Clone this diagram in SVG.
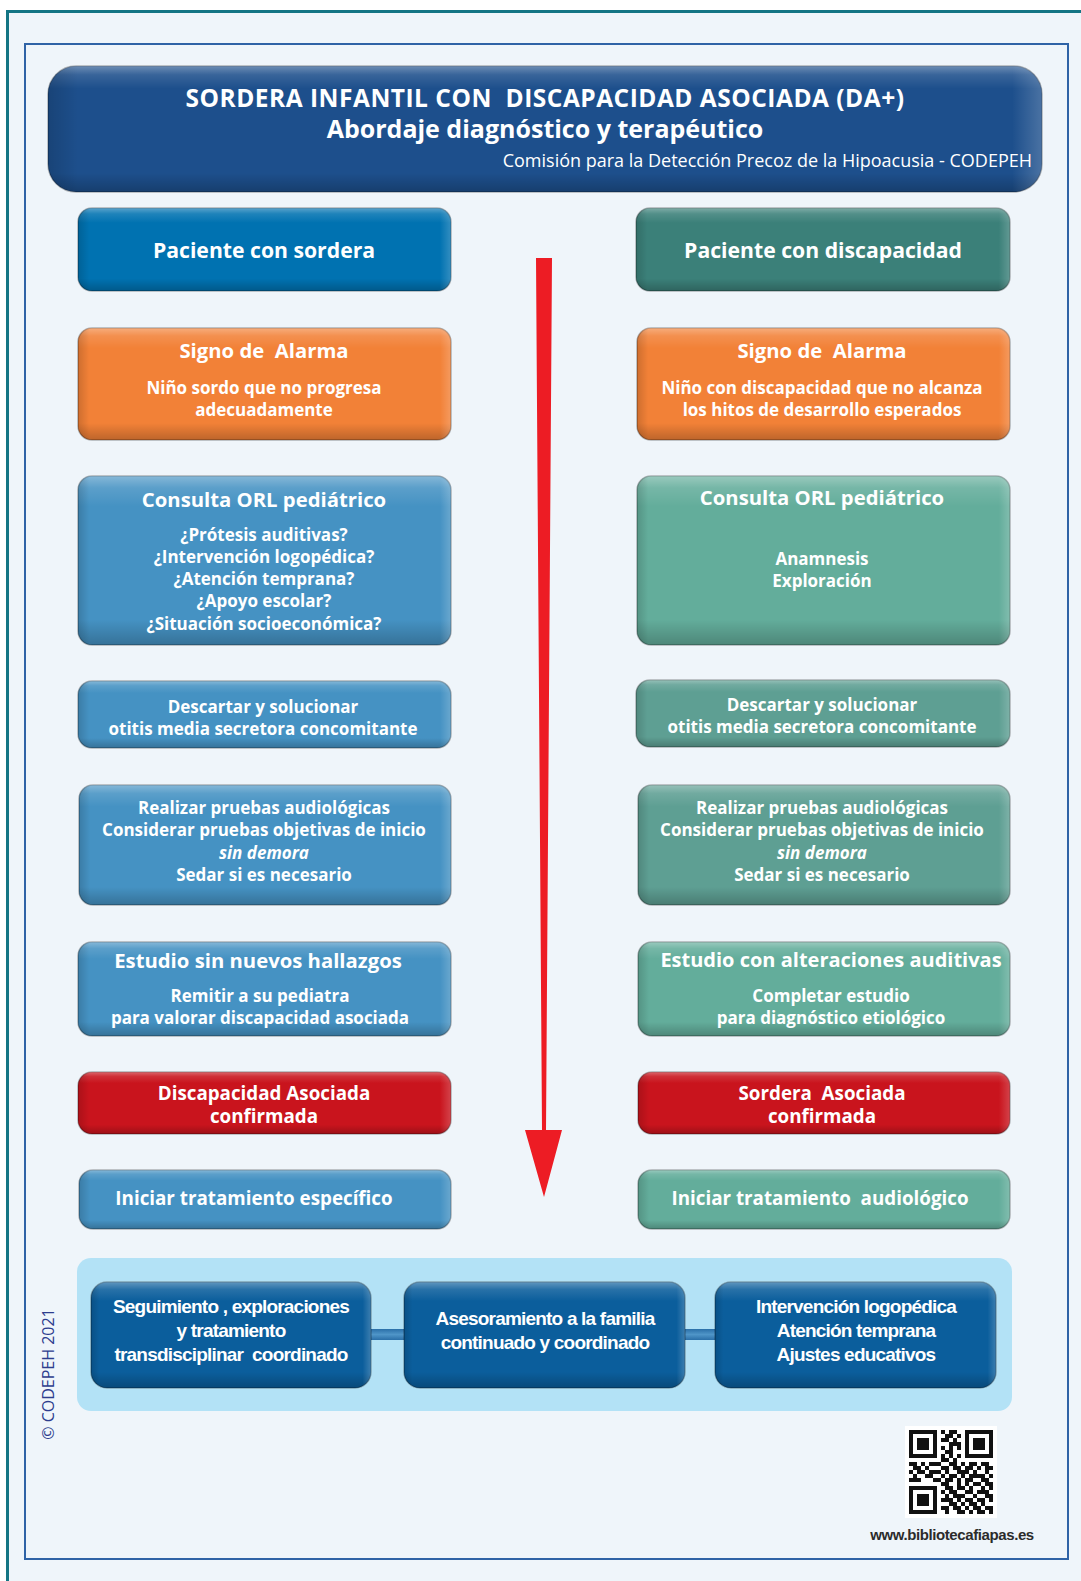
<svg xmlns="http://www.w3.org/2000/svg" width="1081" height="1581" viewBox="0 0 1081 1581">
<defs>
<linearGradient id="gl" x1="0" y1="0" x2="0" y2="1">
<stop offset="0" stop-color="#fff" stop-opacity="0.35"/>
<stop offset="0.07" stop-color="#fff" stop-opacity="0.12"/>
<stop offset="0.18" stop-color="#fff" stop-opacity="0"/>
<stop offset="0.85" stop-color="#000" stop-opacity="0"/>
<stop offset="1" stop-color="#000" stop-opacity="0.22"/>
</linearGradient>
<linearGradient id="glh" x1="0" y1="0" x2="1" y2="0">
<stop offset="0" stop-color="#000" stop-opacity="0.15"/>
<stop offset="0.03" stop-color="#000" stop-opacity="0"/>
<stop offset="0.97" stop-color="#fff" stop-opacity="0"/>
<stop offset="1" stop-color="#fff" stop-opacity="0.2"/>
</linearGradient>
<linearGradient id="bar" x1="0" y1="0" x2="0" y2="1">
<stop offset="0" stop-color="#2a6fa8"/>
<stop offset="0.5" stop-color="#4f95c8"/>
<stop offset="1" stop-color="#2a6fa8"/>
</linearGradient>
</defs>
<style>
.bx{stroke:rgba(0,0,0,0.28);stroke-width:1.5}
.g1{fill:url(#gl)}
.g2{fill:url(#glh)}
.blueD{fill:#0072b1}
.tealD{fill:#3b8079}
.orange{fill:#f28137}
.blueM{fill:#4592c3}
.tealL{fill:#63ad9b}
.tealM{fill:#5e9f93}
.red{fill:#c9141d}
.navy{fill:#0b5e9c}
.t{font-family:"Open Sans","Noto Sans",sans-serif;font-weight:700;fill:#fff;text-anchor:middle}
.h{font-size:20.3px}
.s{font-size:17px}
.m{font-size:18.8px}
.c{font-family:"Liberation Sans",Arial,sans-serif;font-weight:700;fill:#fff;text-anchor:middle;font-size:19px;letter-spacing:-0.8px}
</style>
<rect width="1081" height="1581" fill="#fff"/>
<rect x="7" y="11" width="1074" height="1570" fill="#eff5fa"/>
<path d="M7.5 1581V11.5H1081" fill="none" stroke="#137584" stroke-width="3"/>
<rect x="25" y="44" width="1043" height="1515" fill="none" stroke="#2f63a6" stroke-width="2"/>

<g id="header">
<rect x="48" y="66" width="994" height="126" rx="28" fill="#1d4f8c" class="bx"/>
<rect x="48" y="66" width="994" height="126" rx="28" class="g1"/>
<rect x="48" y="66" width="994" height="126" rx="28" class="g2"/>
<text x="545" y="107" class="t" font-size="24.5" letter-spacing="0.5" style="white-space:pre">SORDERA INFANTIL CON  DISCAPACIDAD ASOCIADA (DA+)</text>
<text x="545" y="138" class="t" font-size="25">Abordaje diagnóstico y terapéutico</text>
<text x="1032" y="167" font-family="Open Sans, Noto Sans, sans-serif" font-size="18" fill="#fff" text-anchor="end">Comisión para la Detección Precoz de la Hipoacusia - CODEPEH</text>
</g>

<g id="l1">
<rect x="78" y="208" width="373" height="83" rx="14" class="bx blueD"/>
<rect x="78" y="208" width="373" height="83" rx="14" class="g1"/><rect x="78" y="208" width="373" height="83" rx="14" class="g2"/>
<text x="264" y="258" class="t" font-size="21.2">Paciente con sordera</text>
</g>
<g id="r1">
<rect x="636" y="208" width="374" height="83" rx="14" class="bx tealD"/>
<rect x="636" y="208" width="374" height="83" rx="14" class="g1"/><rect x="636" y="208" width="374" height="83" rx="14" class="g2"/>
<text x="823" y="258" class="t" font-size="21.2">Paciente con discapacidad</text>
</g>

<g id="l2">
<rect x="78" y="328" width="373" height="112" rx="14" class="bx orange"/>
<rect x="78" y="328" width="373" height="112" rx="14" class="g1"/><rect x="78" y="328" width="373" height="112" rx="14" class="g2"/>
<text x="264" y="358" class="t h" style="white-space:pre">Signo de  Alarma</text>
<text x="264" y="394" class="t s">Niño sordo que no progresa</text>
<text x="264" y="416" class="t s">adecuadamente</text>
</g>
<g id="r2">
<rect x="637" y="328" width="373" height="112" rx="14" class="bx orange"/>
<rect x="637" y="328" width="373" height="112" rx="14" class="g1"/><rect x="637" y="328" width="373" height="112" rx="14" class="g2"/>
<text x="822" y="358" class="t h" style="white-space:pre">Signo de  Alarma</text>
<text x="822" y="394" class="t s">Niño con discapacidad que no alcanza</text>
<text x="822" y="416" class="t s">los hitos de desarrollo esperados</text>
</g>

<g id="l3">
<rect x="78" y="476" width="373" height="169" rx="14" class="bx blueM"/>
<rect x="78" y="476" width="373" height="169" rx="14" class="g1"/><rect x="78" y="476" width="373" height="169" rx="14" class="g2"/>
<text x="264" y="507" class="t h">Consulta ORL pediátrico</text>
<text x="264" y="541" class="t s">¿Prótesis auditivas?</text>
<text x="264" y="563" class="t s">¿Intervención logopédica?</text>
<text x="264" y="585" class="t s">¿Atención temprana?</text>
<text x="264" y="607" class="t s">¿Apoyo escolar?</text>
<text x="264" y="630" class="t s">¿Situación socioeconómica?</text>
</g>
<g id="r3">
<rect x="637" y="476" width="373" height="169" rx="14" class="bx tealL"/>
<rect x="637" y="476" width="373" height="169" rx="14" class="g1"/><rect x="637" y="476" width="373" height="169" rx="14" class="g2"/>
<text x="822" y="505" class="t h">Consulta ORL pediátrico</text>
<text x="822" y="565" class="t s">Anamnesis</text>
<text x="822" y="587" class="t s">Exploración</text>
</g>

<g id="l4">
<rect x="78" y="681" width="373" height="67" rx="14" class="bx blueM"/>
<rect x="78" y="681" width="373" height="67" rx="14" class="g1"/><rect x="78" y="681" width="373" height="67" rx="14" class="g2"/>
<text x="263" y="713" class="t s">Descartar y solucionar</text>
<text x="263" y="735" class="t s">otitis media secretora concomitante</text>
</g>
<g id="r4">
<rect x="636" y="680" width="374" height="67" rx="14" class="bx tealM"/>
<rect x="636" y="680" width="374" height="67" rx="14" class="g1"/><rect x="636" y="680" width="374" height="67" rx="14" class="g2"/>
<text x="822" y="711" class="t s">Descartar y solucionar</text>
<text x="822" y="733" class="t s">otitis media secretora concomitante</text>
</g>

<g id="l5">
<rect x="79" y="785" width="372" height="120" rx="14" class="bx blueM"/>
<rect x="79" y="785" width="372" height="120" rx="14" class="g1"/><rect x="79" y="785" width="372" height="120" rx="14" class="g2"/>
<text x="264" y="814" class="t s">Realizar pruebas audiológicas</text>
<text x="264" y="836" class="t s">Considerar pruebas objetivas de inicio</text>
<text x="264" y="859" class="t s" font-style="italic">sin demora</text>
<text x="264" y="881" class="t s">Sedar si es necesario</text>
</g>
<g id="r5">
<rect x="638" y="785" width="372" height="120" rx="14" class="bx tealM"/>
<rect x="638" y="785" width="372" height="120" rx="14" class="g1"/><rect x="638" y="785" width="372" height="120" rx="14" class="g2"/>
<text x="822" y="814" class="t s">Realizar pruebas audiológicas</text>
<text x="822" y="836" class="t s">Considerar pruebas objetivas de inicio</text>
<text x="822" y="859" class="t s" font-style="italic">sin demora</text>
<text x="822" y="881" class="t s">Sedar si es necesario</text>
</g>

<g id="l6">
<rect x="78" y="942" width="373" height="94" rx="14" class="bx blueM"/>
<rect x="78" y="942" width="373" height="94" rx="14" class="g1"/><rect x="78" y="942" width="373" height="94" rx="14" class="g2"/>
<text x="258" y="968" class="t h">Estudio sin nuevos hallazgos</text>
<text x="260" y="1002" class="t s">Remitir a su pediatra</text>
<text x="260" y="1024" class="t s">para valorar discapacidad asociada</text>
</g>
<g id="r6">
<rect x="638" y="942" width="372" height="94" rx="14" class="bx tealL"/>
<rect x="638" y="942" width="372" height="94" rx="14" class="g1"/><rect x="638" y="942" width="372" height="94" rx="14" class="g2"/>
<text x="831" y="967" class="t" font-size="20">Estudio con alteraciones auditivas</text>
<text x="831" y="1002" class="t s">Completar estudio</text>
<text x="831" y="1024" class="t s">para diagnóstico etiológico</text>
</g>

<g id="l7">
<rect x="78" y="1072" width="373" height="62" rx="14" class="bx red"/>
<rect x="78" y="1072" width="373" height="62" rx="14" class="g1"/><rect x="78" y="1072" width="373" height="62" rx="14" class="g2"/>
<text x="264" y="1100" class="t m">Discapacidad Asociada</text>
<text x="264" y="1123" class="t m">confirmada</text>
</g>
<g id="r7">
<rect x="638" y="1072" width="372" height="62" rx="14" class="bx red"/>
<rect x="638" y="1072" width="372" height="62" rx="14" class="g1"/><rect x="638" y="1072" width="372" height="62" rx="14" class="g2"/>
<text x="822" y="1100" class="t m" style="white-space:pre">Sordera  Asociada</text>
<text x="822" y="1123" class="t m">confirmada</text>
</g>

<g id="l8">
<rect x="79" y="1170" width="372" height="59" rx="14" class="bx blueM"/>
<rect x="79" y="1170" width="372" height="59" rx="14" class="g1"/><rect x="79" y="1170" width="372" height="59" rx="14" class="g2"/>
<text x="254" y="1205" class="t m">Iniciar tratamiento específico</text>
</g>
<g id="r8">
<rect x="638" y="1170" width="372" height="59" rx="14" class="bx tealL"/>
<rect x="638" y="1170" width="372" height="59" rx="14" class="g1"/><rect x="638" y="1170" width="372" height="59" rx="14" class="g2"/>
<text x="820" y="1205" class="t m" style="white-space:pre">Iniciar tratamiento  audiológico</text>
</g>

<g id="panel">
<rect x="77" y="1258" width="935" height="153" rx="14" fill="#b3e2f6"/>
</g>

<g id="connectors">
<polygon points="536,258 552,258 546,1130 562,1130 544,1197 525,1130 542,1130" fill="#ed1c24"/>
<rect x="360" y="1329" width="365" height="11" fill="url(#bar)"/>
</g>

<g id="b1">
<rect x="91" y="1282" width="280" height="106" rx="16" class="bx navy"/>
<rect x="91" y="1282" width="280" height="106" rx="16" class="g1"/><rect x="91" y="1282" width="280" height="106" rx="16" class="g2"/>
<text x="231" y="1313" class="c" style="white-space:pre">Seguimiento , exploraciones</text>
<text x="231" y="1337" class="c">y tratamiento</text>
<text x="231" y="1361" class="c" style="white-space:pre">transdisciplinar  coordinado</text>
</g>
<g id="b2">
<rect x="404" y="1282" width="281" height="106" rx="16" class="bx navy"/>
<rect x="404" y="1282" width="281" height="106" rx="16" class="g1"/><rect x="404" y="1282" width="281" height="106" rx="16" class="g2"/>
<text x="545" y="1325" class="c">Asesoramiento a la familia</text>
<text x="545" y="1349" class="c">continuado y coordinado</text>
</g>
<g id="b3">
<rect x="715" y="1282" width="281" height="106" rx="16" class="bx navy"/>
<rect x="715" y="1282" width="281" height="106" rx="16" class="g1"/><rect x="715" y="1282" width="281" height="106" rx="16" class="g2"/>
<text x="856" y="1313" class="c">Intervención logopédica</text>
<text x="856" y="1337" class="c">Atención temprana</text>
<text x="856" y="1361" class="c">Ajustes educativos</text>
</g>

<text transform="translate(54 1374) rotate(-90)" font-family="Open Sans, Noto Sans, sans-serif" font-size="16" fill="#2d3d8e" text-anchor="middle">© CODEPEH 2021</text>

<g id="qr">
<rect x="905" y="1426" width="92" height="92" fill="#fff"/>
<g stroke="#111" stroke-width="4" fill="none">
<path d="M909 1432h84" stroke-dasharray="28 4 4 4 8 8 28"/>
<path d="M909 1436h84" stroke-dasharray="4 20 4 8 8 4 4 4 4 20 4"/>
<path d="M909 1440h84" stroke-dasharray="4 4 12 4 4 4 8 4 4 8 4 4 12 4 4"/>
<path d="M909 1444h84" stroke-dasharray="4 4 12 4 4 12 12 4 4 4 12 4 4"/>
<path d="M909 1448h84" stroke-dasharray="4 4 12 4 4 4 4 4 4 4 4 4 4 4 12 4 4"/>
<path d="M909 1452h84" stroke-dasharray="4 20 4 8 8 12 4 20 4"/>
<path d="M909 1456h84" stroke-dasharray="28 4 4 4 4 4 4 4 28"/>
<path d="M909 1460h84" stroke-dasharray="0 32 8 4 4 36"/>
<path d="M909 1464h84" stroke-dasharray="8 4 4 4 12 8 8 4 4 4 8 4 8 4"/>
<path d="M909 1468h84" stroke-dasharray="0 4 8 4 4 12 8 4 8 4 8 4 4 4 8"/>
<path d="M909 1472h84" stroke-dasharray="4 4 8 4 12 4 4 8 12 4 4 8 4 4"/>
<path d="M909 1476h84" stroke-dasharray="0 4 4 8 8 8 4 4 8 4 4 4 16 4 4"/>
<path d="M909 1480h84" stroke-dasharray="12 12 8 4 8 4 4 4 8 8 8 4"/>
<path d="M909 1484h84" stroke-dasharray="0 32 8 8 4 4 4 4 8 4 8"/>
<path d="M909 1488h84" stroke-dasharray="28 8 8 4 8 4 4 8 4 4 4"/>
<path d="M909 1492h84" stroke-dasharray="4 20 4 4 4 4 8 8 8 4 12 4"/>
<path d="M909 1496h84" stroke-dasharray="4 4 12 4 4 8 4 4 12 8 4 8 8"/>
<path d="M909 1500h84" stroke-dasharray="4 4 12 4 4 4 12 4 4 4 8 4 8 4 4"/>
<path d="M909 1504h84" stroke-dasharray="4 4 12 4 4 12 8 4 4 4 8 4 4 8"/>
<path d="M909 1508h84" stroke-dasharray="4 20 4 4 8 4 8 4 4 4 8 4 8"/>
<path d="M909 1512h84" stroke-dasharray="28 8 4 8 8 4 4 4 8 4 4"/>
</g>
</g>
<text x="952" y="1540" font-family="Liberation Sans, Arial, sans-serif" font-weight="700" font-size="15" letter-spacing="-0.4" fill="#2b2b2b" text-anchor="middle">www.bibliotecafiapas.es</text>
</svg>
